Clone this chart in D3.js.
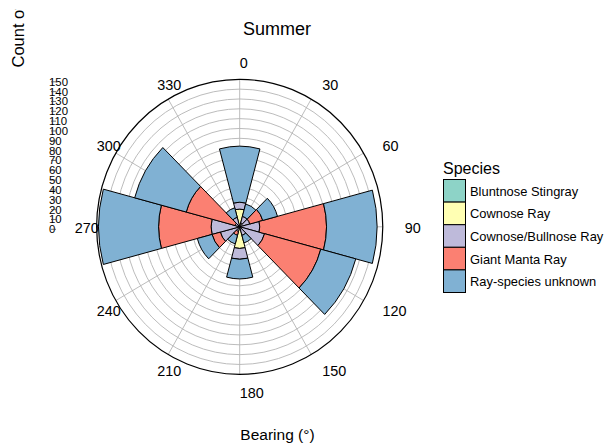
<!DOCTYPE html>
<html><head><meta charset="utf-8">
<script src="https://cdn.jsdelivr.net/npm/d3@7"></script>
<style>body{margin:0;background:#fff} text{font-family:Arial,"Liberation Sans",sans-serif;fill:#000}</style>
</head><body><svg id="c" width="604" height="446"></svg>
<script>
const bearings = [0,30,60,90,120,150,180,210,240,270,300,330];
const species = ["Bluntnose Stingray","Cownose Ray","Cownose/Bullnose Ray","Giant Manta Ray","Ray-species unknown"];
const colors = ["#8DD3C7","#FFFFB3","#BEBADA","#FB8072","#80B1D3"];
const bluntnose = [0,0,0,0,0,0,0,0,0,1,0,0];
const cownose   = [18,4,0,0,0,0,22,0,0,0,0,0];
const cowBull   = [7,7,11,21,27,9,11,5,21,29,5,10];
const manta     = [0,0,14,70,61,0,0,4,9,55,53,0];
const unknown   = [57,13,16,53,38,8,20,9,16,63,56,10];
const radialTicks = d3.range(0,151,10);
const seriesVals = [bluntnose,cownose,cowBull,manta,unknown];

const rows = bearings.map((b,i)=>{const o={bearing:b}; species.forEach((s,j)=>o[s]=seriesVals[j][i]); return o;});
const stacked = d3.stack().keys(species)(rows);

const svg = d3.select("#c");
const cx = 239.7, cy = 226.8, R = 147.5, sx = 0.97;
const ang = d3.scaleBand().domain(bearings).range([-Math.PI/12, 2*Math.PI - Math.PI/12]).paddingInner(0).paddingOuter(0);
const r = d3.scaleLinear().domain([0,150]).range([0,R]);
const color = d3.scaleOrdinal().domain(species).range(colors);

const g = svg.append("g").attr("transform",`translate(${cx},${cy}) scale(${sx},1)`);
g.selectAll("circle.grid").data(radialTicks.filter(v=>v>0 && v<150)).join("circle")
  .attr("r",d=>r(d)).attr("fill","none").attr("stroke","#b4b4b4").attr("stroke-width",0.9)
  .attr("vector-effect","non-scaling-stroke");
g.selectAll("line.spoke").data(bearings).join("line")
  .attr("x1",0).attr("y1",0)
  .attr("x2",d=>r(150)*Math.sin(d*Math.PI/180)).attr("y2",d=>-r(150)*Math.cos(d*Math.PI/180))
  .attr("stroke","#b4b4b4").attr("stroke-width",0.9).attr("vector-effect","non-scaling-stroke");
const arc = d3.arc()
  .innerRadius(d=>r(d[0])).outerRadius(d=>r(d[1]))
  .startAngle(d=>ang(d.data.bearing)).endAngle(d=>ang(d.data.bearing)+ang.bandwidth());
g.selectAll("g.layer").data(stacked).join("g").attr("fill",d=>color(d.key))
  .selectAll("path").data(d=>d.filter(p=>p[1]>p[0])).join("path")
  .attr("d",arc).attr("stroke","#000").attr("stroke-width",1)
  .attr("vector-effect","non-scaling-stroke");
g.append("circle").attr("r",r(150)).attr("fill","none").attr("stroke","#000").attr("stroke-width",1.2)
  .attr("vector-effect","non-scaling-stroke");

svg.selectAll("text.ang").data(bearings).join("text")
  .attr("x",d=>cx+165*Math.sin(d*Math.PI/180))
  .attr("y",d=>cy+1.5-165*Math.cos(d*Math.PI/180))
  .attr("dominant-baseline","central").attr("font-size",14.4).text(d=>d);

svg.selectAll("text.rt").data(radialTicks).join("text")
  .attr("x",49).attr("y",d=>cy-r(d)+2.5).attr("dominant-baseline","central")
  .attr("font-size",11.4).text(d=>d);
svg.selectAll("line.rtick").data(radialTicks).join("line")
  .attr("x1",51).attr("x2",56).attr("y1",d=>cy-r(d)+2.5).attr("y2",d=>cy-r(d)+2.5)
  .attr("stroke","#333").attr("stroke-width",0.7);

svg.append("text").attr("x",277).attr("y",35).attr("text-anchor","middle").attr("font-size",18).text("Summer");
svg.append("text").attr("x",277.5).attr("y",440).attr("text-anchor","middle").attr("font-size",15.5).text("Bearing (°)");
svg.append("clipPath").attr("id","yc").append("rect").attr("x",0).attr("y",9.5).attr("width",40).attr("height",100);
svg.append("g").attr("clip-path","url(#yc)").append("text")
  .attr("transform","translate(23.5,67.5) rotate(-90)").attr("font-size",16.5).text("Count of sightings");

const lg = svg.append("g");
lg.append("text").attr("x",443).attr("y",173.5).attr("font-size",16).text("Species");
const bh = 22.6;
species.forEach((s,i)=>{
  lg.append("rect").attr("x",443.5).attr("y",179.5+i*bh).attr("width",22).attr("height",bh)
    .attr("fill",colors[i]).attr("stroke","#000").attr("stroke-width",1);
  lg.append("text").attr("x",470).attr("y",179.5+i*bh+bh/2+0.5).attr("dominant-baseline","central")
    .attr("font-size",12.9).text(s);
});
</script></body></html>
